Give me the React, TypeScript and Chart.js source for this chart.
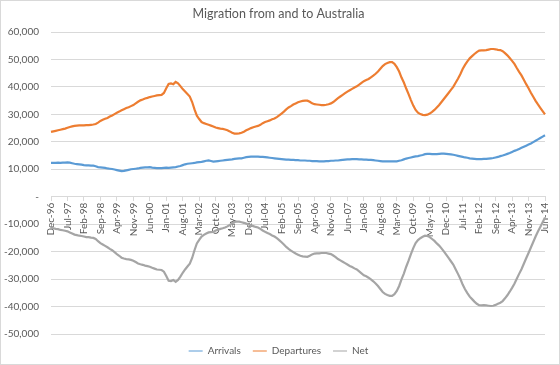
import React, { useEffect, useRef } from 'react';
import { Chart, registerables } from 'chart.js';

Chart.register(...registerables);

// Values in thousands, monthly from Dec-96 to Jun-14
const arrivals = [
  12.3, 12.3, 12.3, 12.4, 12.3, 12.4, 12.4, 12.5, 12.4, 12.2,
  12.0, 11.9, 11.8, 11.7, 11.5, 11.4, 11.4, 11.3, 11.3, 11.1,
  10.8, 10.7, 10.6, 10.5, 10.3, 10.2, 10.1, 9.9, 9.7, 9.5,
  9.3, 9.4, 9.6, 9.8, 10.0, 10.1, 10.2, 10.3, 10.5, 10.6,
  10.7, 10.7, 10.8, 10.6, 10.5, 10.4, 10.4, 10.4, 10.5, 10.6,
  10.5, 10.6, 10.7, 10.8, 11.0, 11.2, 11.5, 11.8, 12.0, 12.1,
  12.2, 12.3, 12.5, 12.6, 12.7, 12.9, 13.1, 13.2, 13.0, 12.8,
  12.9, 13.0, 13.1, 13.2, 13.3, 13.4, 13.5, 13.6, 13.8, 13.9,
  14.0, 14.0, 14.2, 14.4, 14.5, 14.6, 14.6, 14.6, 14.6, 14.5,
  14.5, 14.4, 14.3, 14.2, 14.1, 14.0, 13.9, 13.8, 13.7, 13.6,
  13.5, 13.5, 13.4, 13.4, 13.3, 13.3, 13.2, 13.2, 13.2, 13.1,
  13.1, 13.0, 13.0, 13.0, 12.9, 12.9, 12.9, 13.0, 13.0, 13.1,
  13.1, 13.2, 13.2, 13.3, 13.4, 13.5, 13.6, 13.6, 13.7, 13.7,
  13.7, 13.6, 13.6, 13.5, 13.5, 13.4, 13.4, 13.3, 13.2, 13.1,
  13.0, 12.9, 12.9, 12.9, 12.9, 12.9, 12.9, 12.9, 13.1, 13.3,
  13.6, 13.9, 14.1, 14.3, 14.5, 14.7, 14.8, 15.0, 15.2, 15.5,
  15.6, 15.6, 15.5, 15.5, 15.5, 15.6, 15.7, 15.7, 15.6, 15.5,
  15.4, 15.3, 15.1, 14.9, 14.7, 14.5, 14.3, 14.2, 14.0, 13.9,
  13.8, 13.7, 13.7, 13.7, 13.8, 13.8, 13.9, 14.0, 14.1, 14.3,
  14.5, 14.8, 15.0, 15.3, 15.6, 15.9, 16.3, 16.7, 17.0, 17.4,
  17.8, 18.2, 18.6, 19.0, 19.4, 19.9, 20.4, 20.9, 21.4, 21.9,
  22.4,
];

const departures = [
  23.6, 23.8, 24.0, 24.2, 24.4, 24.6, 24.8, 25.1, 25.4, 25.6,
  25.8, 25.9, 26.0, 26.0, 26.0, 26.1, 26.1, 26.2, 26.3, 26.5,
  27.0, 27.6, 28.0, 28.4, 28.7, 29.2, 29.6, 30.1, 30.6, 31.0,
  31.5, 31.9, 32.3, 32.6, 33.0, 33.4, 34.0, 34.6, 35.1, 35.4,
  35.8, 36.0, 36.3, 36.5, 36.7, 36.9, 37.0, 37.1, 37.8, 39.5,
  41.1, 41.3, 41.0, 41.8, 41.3, 40.3, 39.2, 38.3, 37.4, 36.5,
  34.5, 31.8, 29.5, 28.3, 27.2, 26.8, 26.5, 26.2, 25.9, 25.6,
  25.2, 25.0, 24.8, 24.7, 24.5, 24.2, 23.8, 23.3, 23.0, 23.0,
  23.1, 23.3, 23.7, 24.2, 24.6, 25.0, 25.3, 25.6, 25.8, 26.2,
  26.8, 27.2, 27.5, 27.8, 28.2, 28.5, 29.0, 29.6, 30.3, 31.0,
  31.8, 32.5, 33.0, 33.6, 34.0, 34.4, 34.7, 34.9, 35.0, 35.0,
  34.6, 34.0, 33.7, 33.6, 33.5, 33.4, 33.4, 33.5, 33.7, 34.0,
  34.5, 35.2, 35.9, 36.5, 37.1, 37.7, 38.3, 38.8, 39.3, 39.8,
  40.2, 40.8, 41.5, 42.1, 42.5, 42.9, 43.5, 44.1, 44.8, 45.6,
  46.6, 47.6, 48.3, 48.7, 49.0, 49.0, 48.4, 47.2, 45.6, 43.4,
  41.6, 39.4, 37.4, 35.2, 33.2, 31.6, 30.6, 30.1, 29.8, 29.7,
  29.9, 30.3, 30.9, 31.6, 32.5, 33.4, 34.5, 35.6, 36.7, 37.8,
  38.9, 40.0, 41.5, 43.0, 44.6, 46.5, 48.0, 49.3, 50.4, 51.2,
  52.0, 52.7, 53.2, 53.3, 53.3, 53.4, 53.6, 53.8, 53.8, 53.7,
  53.5, 53.4, 53.0, 52.3, 51.5, 50.5, 49.5, 48.4, 46.9, 45.5,
  44.2, 42.6, 41.0, 39.5, 37.9, 36.4, 34.9, 33.6, 32.4, 31.2,
  30.0,
];

const net = [
  -11.3, -11.5, -11.7, -11.8, -12.1, -12.2, -12.4, -12.6, -13.0, -13.4,
  -13.8, -14.0, -14.2, -14.3, -14.5, -14.7, -14.7, -14.9, -15.0, -15.4,
  -16.2, -16.9, -17.4, -17.9, -18.4, -19.0, -19.5, -20.2, -20.9, -21.5,
  -22.2, -22.5, -22.7, -22.8, -23.0, -23.3, -23.8, -24.3, -24.6, -24.8,
  -25.1, -25.3, -25.5, -25.9, -26.2, -26.5, -26.6, -26.7, -27.3, -28.9,
  -30.6, -30.7, -30.3, -31.0, -30.3, -29.1, -27.7, -26.5, -25.4, -24.4,
  -22.3, -19.5, -17.0, -15.7, -14.5, -13.9, -13.4, -13.0, -12.9, -12.8,
  -12.3, -12.0, -11.7, -11.5, -11.2, -10.8, -10.3, -9.7, -9.2, -9.1,
  -9.1, -9.3, -9.5, -9.8, -10.1, -10.4, -10.7, -11.0, -11.2, -11.7,
  -12.3, -12.8, -13.2, -13.6, -14.1, -14.5, -15.1, -15.8, -16.6, -17.4,
  -18.3, -19.0, -19.6, -20.2, -20.7, -21.1, -21.5, -21.7, -21.8, -21.9,
  -21.5, -21.0, -20.7, -20.6, -20.6, -20.5, -20.5, -20.5, -20.7, -20.9,
  -21.4, -22.0, -22.7, -23.2, -23.7, -24.2, -24.7, -25.2, -25.6, -26.1,
  -26.5, -27.2, -27.9, -28.6, -29.0, -29.5, -30.1, -30.8, -31.6, -32.5,
  -33.6, -34.7, -35.4, -35.8, -36.1, -36.1, -35.5, -34.3, -32.5, -30.1,
  -28.0, -25.5, -23.3, -20.9, -18.7, -16.9, -15.8, -15.1, -14.6, -14.2,
  -14.3, -14.7, -15.4, -16.1, -17.0, -17.8, -18.8, -19.9, -21.1, -22.3,
  -23.5, -24.7, -26.4, -28.1, -29.9, -32.0, -33.7, -35.1, -36.4, -37.3,
  -38.2, -39.0, -39.5, -39.6, -39.5, -39.6, -39.7, -39.8, -39.7, -39.4,
  -39.0, -38.6, -38.0, -37.0, -35.9, -34.6, -33.2, -31.7, -29.9, -28.1,
  -26.4, -24.4, -22.4, -20.5, -18.5, -16.5, -14.5, -12.7, -11.0, -9.3,
  -7.6,
];

const MONTHS = ['Jan', 'Feb', 'Mar', 'Apr', 'May', 'Jun', 'Jul', 'Aug', 'Sep', 'Oct', 'Nov', 'Dec'];
const START_YEAR = 1996;
const START_MONTH = 11; // Dec
const TICK_EVERY = 7;

const categories: string[] = arrivals.map((_, i) => {
  const m = (START_MONTH + i) % 12;
  const y = START_YEAR + Math.floor((START_MONTH + i) / 12);
  return `${MONTHS[m]}-${String(y % 100).padStart(2, '0')}`;
});

const Y_MIN = -50;
const Y_MAX = 60;
const Y_STEP = 10;

const FONT = 'Lato, "Open Sans", sans-serif';
const TEXT = '#595959';
const GRID = '#d9d9d9';

export default function App() {
  const ref = useRef<HTMLCanvasElement | null>(null);

  useEffect(() => {
    document.body.style.margin = '0';
    if (!ref.current) return;
    const chart = new Chart(ref.current, {
      type: 'line',
      data: {
        labels: categories,
        datasets: [
          { label: 'Arrivals', data: arrivals, borderColor: '#5b9bd5', backgroundColor: '#5b9bd5' },
          { label: 'Departures', data: departures, borderColor: '#ed7d31', backgroundColor: '#ed7d31' },
          { label: 'Net', data: net, borderColor: '#a5a5a5', backgroundColor: '#a5a5a5' },
        ],
      },
      options: {
        animation: false,
        responsive: true,
        maintainAspectRatio: false,
        layout: { padding: { left: 0, right: 3, top: 0, bottom: -2 } },
        elements: {
          point: { radius: 0 },
          line: { borderWidth: 2.2, tension: 0 },
        },
        plugins: {
          title: {
            display: true,
            text: 'Migration from and to Australia',
            color: TEXT,
            font: { family: FONT, size: 12.5, weight: 'normal' },
            padding: { top: 5, bottom: 11 },
          },
          legend: {
            position: 'bottom',
            labels: {
              usePointStyle: true,
              pointStyle: 'line',
              pointStyleWidth: 14,
              padding: 12,
              color: TEXT,
              font: { family: FONT, size: 10 },
            },
          },
          tooltip: { enabled: false },
        },
        scales: {
          x: {
            position: { y: 0 },
            offset: false,
            grid: {
              drawOnChartArea: false,
              drawTicks: true,
              tickLength: 4,
              color: (ctx: any) => (ctx.index % TICK_EVERY === 0 ? GRID : 'rgba(0,0,0,0)'),
            },
            border: { color: GRID },
            ticks: {
              autoSkip: false,
              minRotation: 90,
              maxRotation: 90,
              padding: 2,
              color: TEXT,
              font: { family: FONT, size: 10 },
              callback: (_v: any, i: number) => (i % TICK_EVERY === 0 ? categories[i] : ''),
            },
          },
          y: {
            min: Y_MIN,
            max: Y_MAX,
            afterFit: (scale: any) => {
              scale.width = 50;
            },
            ticks: {
              stepSize: Y_STEP,
              padding: 12,
              color: TEXT,
              font: { family: FONT, size: 10 },
              callback: (v: any) => (Number(v) === 0 ? '-' : (Number(v) * 1000).toLocaleString('en-US')),
            },
            grid: { color: GRID, drawTicks: false },
            border: { display: false },
          },
        },
      },
    });
    return () => chart.destroy();
  }, []);

  return (
    <div
      style={{
        width: 560,
        height: 365,
        position: 'relative',
        boxSizing: 'border-box',
        border: '1px solid #d9d9d9',
        background: '#fff',
      }}
    >
      <canvas ref={ref} />
    </div>
  );
}
